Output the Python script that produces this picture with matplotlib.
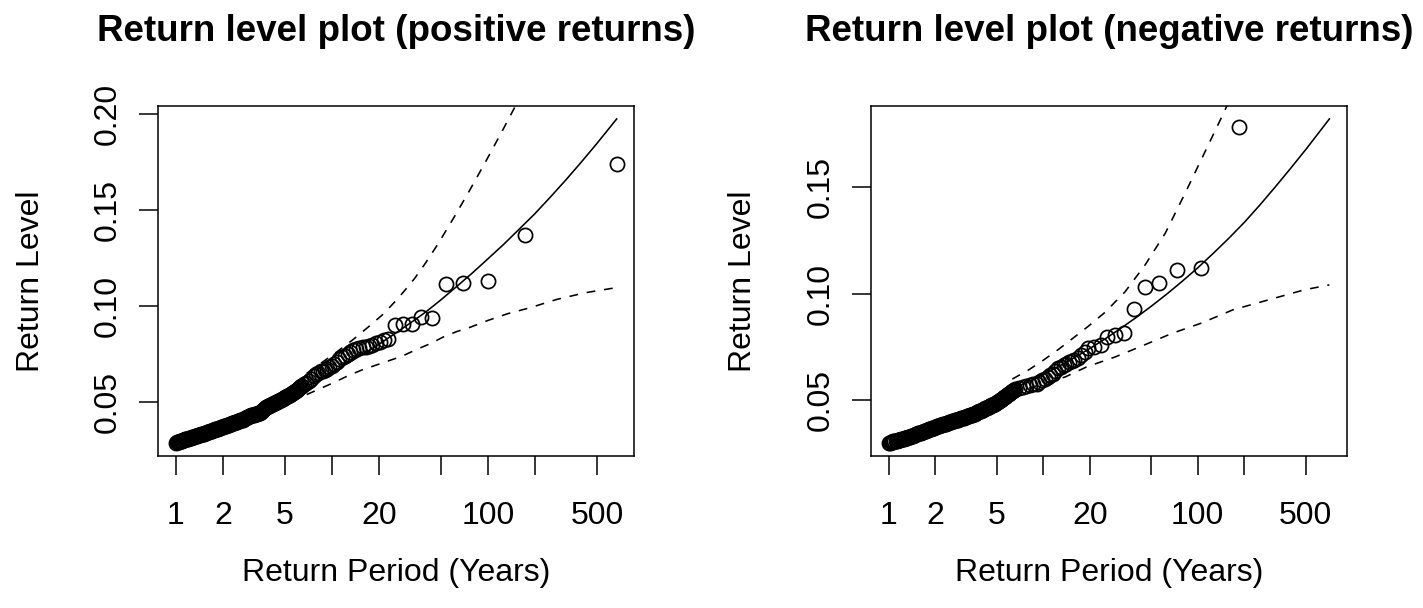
import numpy as np
import matplotlib
matplotlib.use("Agg")
import matplotlib.pyplot as plt

plt.rcParams["font.family"] = ["Liberation Sans", "DejaVu Sans"]

# ---------------- positive returns ----------------
pos_period = [1.000, 1.015, 1.030, 1.045, 1.060, 1.075, 1.090, 1.110, 1.130, 1.145,
              1.160, 1.175, 1.190, 1.210, 1.230, 1.250, 1.270, 1.285, 1.300, 1.320,
              1.340, 1.360, 1.380, 1.405, 1.430, 1.450, 1.470, 1.490, 1.510, 1.535,
              1.560, 1.580, 1.600, 1.625, 1.650, 1.675, 1.700, 1.725, 1.750, 1.780,
              1.810, 1.835, 1.860, 1.890, 1.920, 1.945, 1.970, 2.000, 2.030, 2.060,
              2.090, 2.125, 2.160, 2.190, 2.220, 2.255, 2.290, 2.325, 2.360, 2.395,
              2.430, 2.465, 2.500, 2.540, 2.580, 2.615, 2.650, 2.690, 2.730, 2.770,
              2.810, 2.855, 2.900, 2.945, 2.990, 3.035, 3.080, 3.125, 3.170, 3.215,
              3.260, 3.310, 3.360, 3.410, 3.460, 3.510, 3.560, 3.615, 3.670, 3.725,
              3.780, 3.840, 3.900, 3.955, 4.010, 4.070, 4.130, 4.195, 4.260, 4.320,
              4.380, 4.450, 4.520, 4.585, 4.650, 4.720, 4.790, 4.860, 4.930, 5.005,
              5.080, 5.160, 5.240, 5.315, 5.390, 5.470, 5.550, 5.635, 5.720, 5.805,
              5.890, 5.980, 6.070, 6.160, 6.250, 6.345, 6.440,
              6.58, 6.80, 7.08, 7.35, 7.62, 7.90, 8.17, 8.45, 8.71, 9.00,
              9.25, 9.60, 9.95, 10.3, 10.7, 11.1, 11.6, 12.1, 12.6, 13.1,
              13.6, 14.3, 15.0, 15.7, 16.5, 17.3, 18.1, 19.2, 20.3, 21.5,
              22.8, 25.4, 28.6, 32.4, 37.2, 43.9, 54.2, 69.5, 99.5, 173, 668]
pos_level = [0.0289, 0.0291, 0.0293, 0.0295, 0.0296, 0.0298, 0.0300, 0.0302, 0.0304, 0.0306,
             0.0307, 0.0309, 0.0310, 0.0312, 0.0314, 0.0316, 0.0318, 0.0320, 0.0321, 0.0323,
             0.0324, 0.0326, 0.0327, 0.0329, 0.0331, 0.0333, 0.0334, 0.0336, 0.0337, 0.0339,
             0.0341, 0.0343, 0.0344, 0.0346, 0.0348, 0.0350, 0.0352, 0.0354, 0.0355, 0.0358,
             0.0360, 0.0362, 0.0363, 0.0365, 0.0367, 0.0369, 0.0370, 0.0372, 0.0374, 0.0376,
             0.0378, 0.0380, 0.0382, 0.0384, 0.0386, 0.0388, 0.0390, 0.0392, 0.0393, 0.0395,
             0.0397, 0.0399, 0.0401, 0.0403, 0.0405, 0.0407, 0.0408, 0.0410, 0.0413, 0.0416,
             0.0419, 0.0422, 0.0425, 0.0428, 0.0430, 0.0432, 0.0433, 0.0435, 0.0436, 0.0438,
             0.0439, 0.0441, 0.0442, 0.0444, 0.0445, 0.0450, 0.0455, 0.0460, 0.0464, 0.0469,
             0.0473, 0.0476, 0.0479, 0.0482, 0.0484, 0.0487, 0.0489, 0.0492, 0.0494, 0.0497,
             0.0499, 0.0502, 0.0505, 0.0508, 0.0510, 0.0513, 0.0516, 0.0519, 0.0522, 0.0525,
             0.0528, 0.0531, 0.0534, 0.0537, 0.0540, 0.0543, 0.0546, 0.0550, 0.0553, 0.0557,
             0.0560, 0.0564, 0.0568, 0.0573, 0.0577, 0.0582, 0.0587,
             0.0594, 0.0601, 0.0612, 0.0622, 0.0635, 0.0645, 0.0652, 0.0660, 0.0665, 0.0668,
             0.0672, 0.0681, 0.0690, 0.0700, 0.0712, 0.0726, 0.0736, 0.0743, 0.0750, 0.0762,
             0.0770, 0.0778, 0.0783, 0.0786, 0.0790, 0.0794, 0.0798, 0.0806, 0.0815, 0.0822,
             0.0830, 0.0903, 0.0905, 0.0905, 0.0942, 0.0940, 0.1115, 0.1121, 0.1129, 0.1371, 0.1740]

pos_fit_period = [6.89, 7.94, 10, 12.6, 15.8, 20.0, 25.1, 31.6, 39.8, 50.1, 63.1,
                  79.4, 100, 126, 158, 200, 251, 316, 398, 501, 668]
pos_fit_level = [0.0582, 0.0610, 0.0655, 0.0702, 0.0750, 0.0802, 0.0855, 0.0911, 0.0969, 0.1034, 0.1103,
                 0.1173, 0.1247, 0.1322, 0.1400, 0.1482, 0.1568, 0.1658, 0.1752, 0.1849, 0.1975]

pos_upper_period = [6.89, 8.91, 11.2, 13.7, 17.0, 21.4, 25.1, 28.8, 33.9, 39.8,
                    47.9, 60.3, 75.9, 97.7, 123, 155]
pos_upper_level = [0.0650, 0.0715, 0.0773, 0.0827, 0.0890, 0.0960, 0.1020, 0.1075, 0.1145, 0.1225,
                   0.1325, 0.1460, 0.1600, 0.1760, 0.1910, 0.2065]

pos_lower_period = [6.89, 10, 13.0, 15.8, 22.4, 28.2, 34.9, 42.7, 51.8, 63.1,
                    76.7, 100, 135, 186, 275, 419, 668]
pos_lower_level = [0.0540, 0.0598, 0.0642, 0.0670, 0.0712, 0.0740, 0.0775, 0.0805, 0.0840, 0.0868,
                   0.0890, 0.0926, 0.0962, 0.0992, 0.1035, 0.1070, 0.1097]

# ---------------- negative returns ----------------
neg_period = [1.000, 1.015, 1.030, 1.045, 1.060, 1.075, 1.090, 1.110, 1.130, 1.145,
              1.160, 1.175, 1.190, 1.210, 1.230, 1.250, 1.270, 1.285, 1.300, 1.320,
              1.340, 1.360, 1.380, 1.405, 1.430, 1.450, 1.470, 1.490, 1.510, 1.535,
              1.560, 1.580, 1.600, 1.625, 1.650, 1.675, 1.700, 1.725, 1.750, 1.780,
              1.810, 1.835, 1.860, 1.890, 1.920, 1.945, 1.970, 2.000, 2.030, 2.060,
              2.090, 2.125, 2.160, 2.190, 2.220, 2.255, 2.290, 2.325, 2.360, 2.395,
              2.430, 2.465, 2.500, 2.540, 2.580, 2.615, 2.650, 2.690, 2.730, 2.770,
              2.810, 2.855, 2.900, 2.945, 2.990, 3.035, 3.080, 3.125, 3.170, 3.215,
              3.260, 3.310, 3.360, 3.410, 3.460, 3.510, 3.560, 3.615, 3.670, 3.725,
              3.780, 3.840, 3.900, 3.955, 4.010, 4.070, 4.130, 4.195, 4.260, 4.320,
              4.380, 4.450, 4.520, 4.585, 4.650, 4.720, 4.790, 4.860, 4.930, 5.005,
              5.080, 5.160, 5.240, 5.315, 5.390, 5.470, 5.550, 5.635, 5.720, 5.805,
              5.890, 5.980, 6.070, 6.160, 6.250, 6.345, 6.440,
              6.61, 6.97, 7.35, 7.74, 8.17, 8.61, 9.08, 9.44, 9.84, 10.2,
              10.7, 11.1, 11.5, 12.0, 12.5, 13.0, 13.6, 14.1, 14.7, 15.3,
              15.9, 16.7, 17.7, 18.6, 19.6, 21.3, 23.7, 25.9, 29.2, 33.4,
              38.5, 45.9, 56.2, 73.5, 105, 184]
neg_level = [0.0301, 0.0302, 0.0303, 0.0305, 0.0306, 0.0307, 0.0308, 0.0310, 0.0311, 0.0313,
             0.0314, 0.0315, 0.0316, 0.0318, 0.0319, 0.0320, 0.0321, 0.0322, 0.0323, 0.0325,
             0.0326, 0.0328, 0.0330, 0.0332, 0.0334, 0.0336, 0.0337, 0.0339, 0.0341, 0.0343,
             0.0345, 0.0346, 0.0347, 0.0349, 0.0351, 0.0353, 0.0355, 0.0357, 0.0358, 0.0360,
             0.0362, 0.0364, 0.0365, 0.0367, 0.0369, 0.0371, 0.0372, 0.0374, 0.0376, 0.0378,
             0.0379, 0.0381, 0.0382, 0.0384, 0.0385, 0.0387, 0.0388, 0.0390, 0.0391, 0.0393,
             0.0395, 0.0397, 0.0398, 0.0400, 0.0401, 0.0403, 0.0404, 0.0406, 0.0407, 0.0409,
             0.0410, 0.0412, 0.0413, 0.0415, 0.0416, 0.0418, 0.0419, 0.0421, 0.0423, 0.0425,
             0.0426, 0.0428, 0.0429, 0.0431, 0.0432, 0.0434, 0.0435, 0.0438, 0.0440, 0.0443,
             0.0445, 0.0448, 0.0450, 0.0452, 0.0454, 0.0457, 0.0459, 0.0462, 0.0464, 0.0466,
             0.0468, 0.0471, 0.0473, 0.0476, 0.0478, 0.0480, 0.0482, 0.0485, 0.0487, 0.0490,
             0.0493, 0.0497, 0.0500, 0.0504, 0.0507, 0.0511, 0.0514, 0.0518, 0.0521, 0.0525,
             0.0528, 0.0532, 0.0535, 0.0539, 0.0543, 0.0546, 0.0549,
             0.0555, 0.0559, 0.0563, 0.0567, 0.0571, 0.0575, 0.0579, 0.0586, 0.0594, 0.0602,
             0.0610, 0.0618, 0.0626, 0.0638, 0.0650, 0.0658, 0.0665, 0.0673, 0.0681, 0.0685,
             0.0689, 0.0700, 0.0712, 0.0728, 0.0744, 0.0751, 0.0759, 0.0799, 0.0807, 0.0818,
             0.0929, 0.1034, 0.1050, 0.1113, 0.1121, 0.1782]

neg_fit_period = [6.31, 7.94, 10, 12.6, 15.8, 20.0, 25.1, 31.6, 39.8, 50.1, 63.1,
                  79.4, 100, 126, 158, 200, 251, 316, 398, 501, 711]
neg_fit_level = [0.0555, 0.0587, 0.0621, 0.0659, 0.0699, 0.0743, 0.0788, 0.0837, 0.0888, 0.0942, 0.0999,
                 0.1059, 0.1122, 0.1190, 0.1259, 0.1335, 0.1415, 0.1500, 0.1588, 0.1678, 0.1821]

neg_upper_period = [6.31, 7.94, 10, 12.6, 15.8, 20.0, 25.1, 33.9, 45.7, 61.7, 83.2, 112, 146, 158]
neg_upper_level = [0.0600, 0.0640, 0.0688, 0.0740, 0.0795, 0.0853, 0.0913, 0.1010, 0.1136, 0.1285,
                   0.1475, 0.1670, 0.1844, 0.1897]

neg_lower_period = [6.31, 7.94, 10, 13.9, 19.1, 29.3, 44.8, 68.5, 105, 169, 288, 490, 711]
neg_lower_level = [0.0532, 0.0555, 0.0578, 0.0610, 0.0657, 0.0704, 0.0759, 0.0815, 0.0862, 0.0925,
                   0.0972, 0.1019, 0.1042]

# ---------------- axis ticks ----------------
x_tick_periods = [1, 2, 5, 10, 20, 50, 100, 200, 500]
x_tick_labels = ["1", "2", "5", "", "20", "", "100", "", "500"]
pos_y_ticks = [0.05, 0.10, 0.15, 0.20]
neg_y_ticks = [0.05, 0.10, 0.15]

FS = 23        # axis text size (pt)
TITLE_FS = 26.5
LW = 1.15


def padded(lo, hi, frac=0.04):
    span = hi - lo
    return lo - frac * span, hi + frac * span


def return_level_panel(ax, title, period, level, fit_p, fit_l,
                       up_p, up_l, lo_p, lo_l, y_ticks):
    ax.set_xscale("log")
    ax.plot(period, level, linestyle="none", marker="o", markersize=10.2,
            markerfacecolor="none", markeredgecolor="black", markeredgewidth=1.25)
    ax.plot(fit_p, fit_l, color="black", linewidth=LW)
    ax.plot(up_p, up_l, color="black", linewidth=LW, dashes=(5.5, 5.5))
    ax.plot(lo_p, lo_l, color="black", linewidth=LW, dashes=(5.5, 5.5))

    # limits span the points and the fitted curve, padded by 4% on each side
    lx = np.log10(np.concatenate([period, fit_p]))
    x0, x1 = padded(lx.min(), lx.max())
    ax.set_xlim(10 ** x0, 10 ** x1)
    ly = np.concatenate([level, fit_l])
    ax.set_ylim(*padded(ly.min(), ly.max()))

    ax.xaxis.set_major_locator(matplotlib.ticker.FixedLocator(x_tick_periods))
    ax.xaxis.set_major_formatter(matplotlib.ticker.FixedFormatter(x_tick_labels))
    ax.xaxis.set_minor_locator(matplotlib.ticker.NullLocator())
    ax.set_yticks(y_ticks)
    ax.set_yticklabels([f"{v:.2f}" for v in y_ticks], rotation=90, va="center")

    ax.tick_params(axis="both", which="major", direction="out", length=13.7,
                   width=1.1, labelsize=FS, top=False, right=False)
    ax.tick_params(axis="x", pad=19)
    ax.tick_params(axis="y", pad=12)
    for sp in ax.spines.values():
        sp.set_linewidth(1.1)

    ax.set_title(title, fontsize=TITLE_FS, fontweight="bold", pad=47)
    ax.set_xlabel("Return Period (Years)", fontsize=FS)
    ax.xaxis.set_label_coords(0.5, -0.335)
    ax.xaxis.label.set_va("center")
    ax.set_ylabel("Return Level", fontsize=FS)
    ax.yaxis.set_label_coords(-0.268, 0.5)
    ax.yaxis.label.set_va("center")


W, H = 1423, 608
fig = plt.figure(figsize=(W / 100, H / 100), dpi=100)
box_w, box_top, box_bot = 476, 106, 455.7
ax1 = fig.add_axes([158.3 / W, (H - box_bot) / H, box_w / W, (box_bot - box_top) / H])
ax2 = fig.add_axes([871.0 / W, (H - box_bot) / H, box_w / W, (box_bot - box_top) / H])

return_level_panel(ax1, "Return level plot (positive returns)",
                   pos_period, pos_level, pos_fit_period, pos_fit_level,
                   pos_upper_period, pos_upper_level, pos_lower_period, pos_lower_level,
                   pos_y_ticks)
return_level_panel(ax2, "Return level plot (negative returns)",
                   neg_period, neg_level, neg_fit_period, neg_fit_level,
                   neg_upper_period, neg_upper_level, neg_lower_period, neg_lower_level,
                   neg_y_ticks)

fig.savefig("out.png", dpi=100, facecolor="white")
